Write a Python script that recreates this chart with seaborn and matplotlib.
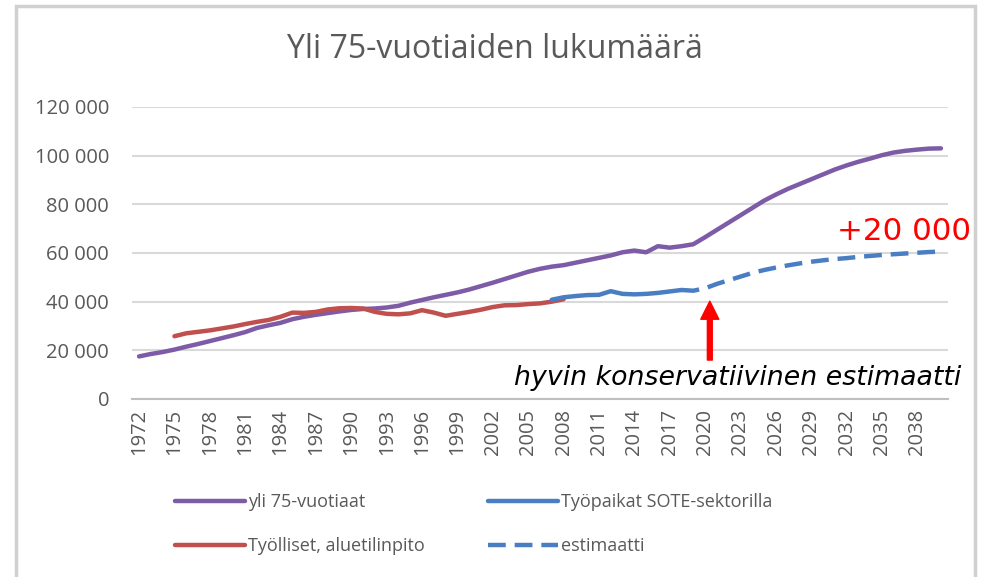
import numpy as np
import pandas as pd
import seaborn as sns
import matplotlib.pyplot as plt
from matplotlib.patches import Rectangle

# yli 75-vuotiaat, 1972-2040
years_over75 = list(range(1972, 2041))
over75 = [17500, 18500, 19300, 20300, 21500, 22600, 23800, 25000, 26200, 27500,
          29200, 30300, 31300, 32800, 33800, 34600, 35300, 36000, 36600, 37000,
          37200, 37600, 38300, 39600, 40700, 41800, 42800, 43800, 45000, 46400,
          47800, 49300, 50800, 52300, 53500, 54400, 55000, 56000, 57000, 58000,
          59000, 60300, 61000, 60300, 62800, 62200, 62800, 63600, 66500, 69500,
          72500, 75500, 78500, 81500, 84000, 86300, 88300, 90300, 92300, 94300,
          96000, 97500, 98800, 100200, 101300, 102000, 102500, 102900, 103000]

# Työlliset, aluetilinpito, 1975-2008
years_employed = list(range(1975, 2009))
employed = [25800, 27000, 27600, 28200, 29000, 29800, 30800, 31700, 32500, 33800,
            35500, 35400, 35800, 36800, 37300, 37400, 37200, 35800, 35000, 34800,
            35200, 36500, 35500, 34200, 35000, 35800, 36700, 37800, 38500, 38600,
            39000, 39300, 40000, 41000]

# Työpaikat SOTE-sektorilla, 2007-2018
years_sote = list(range(2007, 2019))
sote = [40800, 41800, 42300, 42700, 42800, 44300, 43200, 43000, 43200, 43600,
        44200, 44800]

# estimaatti, 2018-2040
years_est = list(range(2018, 2041))
estimate = [44800, 44500, 45500, 47300, 48800, 50300, 51800, 53000, 54000, 54900,
            55700, 56400, 57000, 57500, 57900, 58400, 58800, 59200, 59500, 59800,
            60100, 60400, 60600]

tick_years = list(range(1972, 2039, 3))
y_ticks = [0, 20000, 40000, 60000, 80000, 100000, 120000]

PURPLE = '#7D5BA6'
RED = '#C0504D'
BLUE = '#4A7EC2'
GRAY = '#595959'

sns.set_theme(style='white')
plt.rcParams['font.family'] = ['Open Sans', 'DejaVu Sans']

fig = plt.figure(figsize=(9.82, 5.77), dpi=100)
ax = fig.add_axes([132 / 982, 1 - 399 / 577, (948 - 132) / 982, (399 - 107) / 577])

sns.lineplot(x=years_over75, y=over75, ax=ax, color=PURPLE, lw=3.2, label='yli 75-vuotiaat')
sns.lineplot(x=years_employed, y=employed, ax=ax, color=RED, lw=3.2, label='Työlliset, aluetilinpito')
sns.lineplot(x=years_sote, y=sote, ax=ax, color=BLUE, lw=3.2, label='Työpaikat SOTE-sektorilla')
sns.lineplot(x=years_est, y=estimate, ax=ax, color=BLUE, lw=3.2, label='estimaatti')
ax.lines[-1].set_dashes((4, 2))

ax.set_xlim(1971.4, 2040.6)
ax.set_ylim(0, 120000)
ax.set_yticks(y_ticks)
ax.set_yticklabels([f'{v:,}'.replace(',', ' ') for v in y_ticks])
ax.set_xticks(tick_years)
ax.set_xticklabels([str(y) for y in tick_years], rotation=90)
ax.tick_params(axis='both', length=0, labelsize=14.5, labelcolor=GRAY)
ax.tick_params(axis='y', pad=16.5)
ax.tick_params(axis='x', pad=7)
ax.yaxis.grid(True, color='#D9D9D9', lw=1.5)
ax.set_axisbelow(True)
for s in ['top', 'right', 'left']:
    ax.spines[s].set_visible(False)
ax.spines['bottom'].set_color('#BFBFBF')
ax.spines['bottom'].set_linewidth(1.5)
ax.set_xlabel('')
ax.set_ylabel('')

fig.text(495 / 982, 1 - 50 / 577, 'Yli 75-vuotiaiden lukumäärä', ha='center', va='center',
         fontsize=23, color=GRAY)

# annotations
ax.annotate('', xy=(2020.4, 40200), xytext=(2020.4, 16000),
            arrowprops=dict(facecolor='red', edgecolor='red', width=3.5,
                            headwidth=13, headlength=13))
ax.text(2003.8, 8600, 'hyvin konservatiivinen estimaatti', fontsize=19.3,
        style='italic', family='DejaVu Sans', va='center', ha='left', color='black')
ax.text(2031.2, 69000, '+20 000', fontsize=22.3, family='DejaVu Sans', color='red',
        va='center', ha='left', clip_on=False)

leg = ax.legend(ncol=2, loc='center left', bbox_to_anchor=(175 / 982, 1 - 524 / 577),
                bbox_transform=fig.transFigure, frameon=False, fontsize=13,
                handlelength=3.9, handletextpad=0.15, labelspacing=1.45,
                columnspacing=3.5, borderaxespad=0, borderpad=0)
for t in leg.get_texts():
    t.set_color(GRAY)

# frame of the screenshot
fig.add_artist(Rectangle((16 / 982, -0.1), (975 - 16) / 982, 1.1 - 6 / 577,
                         transform=fig.transFigure, fill=False,
                         edgecolor='#D0D0D0', lw=2.5))

fig.savefig('out.png', dpi=100)
